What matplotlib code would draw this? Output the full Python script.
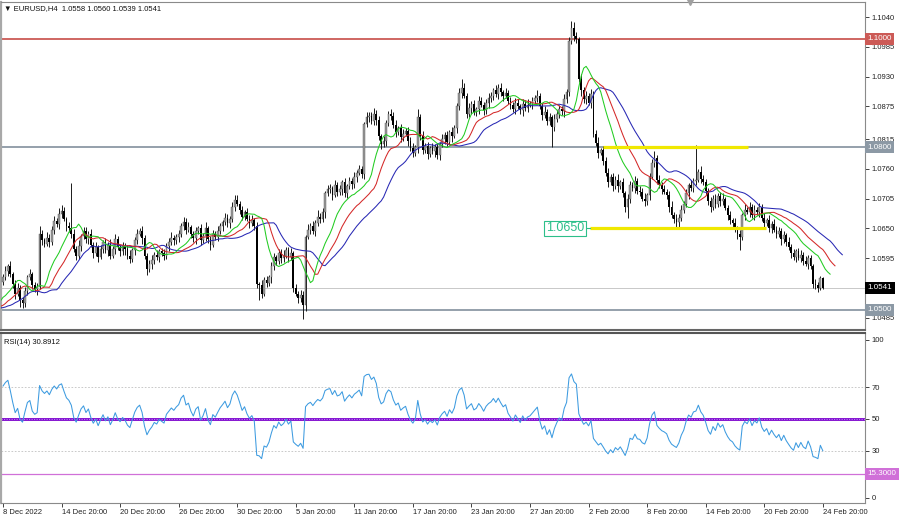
import numpy as np
import pandas as pd
import matplotlib as mpl
mpl.use('Agg')
import matplotlib.pyplot as plt
import matplotlib.transforms as mtransforms

plt.rcParams['font.family'] = ['Liberation Sans', 'DejaVu Sans']

# EURUSD H4 closes in pips above 1.0000, 8 Dec 2022 20:00 .. 24 Feb 2023 20:00
close_pips = [
    560, 572, 580, 566, 548, 530, 540, 518, 512, 535, 560, 566, 545, 538, 542,
    640, 628, 622, 633, 625, 648, 664, 658, 676, 682, 668, 655, 650, 640,
    612, 600, 618, 636, 645, 630, 640, 620, 605, 615, 598, 612,
    625, 610, 620, 600, 612, 630, 615, 608, 618, 612, 600, 594, 610,
    628, 640, 646, 632, 600, 575, 585, 592, 602, 598, 608, 604, 600,
    618, 625, 632, 628, 635, 640, 655, 662, 648, 652, 640, 632, 645, 650, 628, 636,
    650, 630, 620, 640, 635, 645, 655, 662, 670, 660, 668, 690, 702, 696,
    685, 672, 680, 668, 660, 665, 655, 548, 545, 530, 555, 550, 560,
    580, 598, 590, 605, 595, 600, 610, 598, 605, 540, 530, 522, 528, 508, 634,
    648, 655, 645, 660, 672, 668, 680, 715, 722, 725, 712, 730, 718, 722, 735, 715, 728, 738, 732,
    745, 752, 760, 750, 842, 855, 858, 848, 862, 850, 820, 805, 812, 845, 862, 858, 840,
    828, 835, 818, 825, 830, 812, 798, 790, 800, 855, 820, 795, 802, 788, 798, 792, 800, 785, 805,
    815, 822, 810, 828, 820, 835, 875, 900, 910, 895, 862, 872, 880, 865, 870, 885, 878, 868, 882, 890,
    895, 905, 898, 910, 902, 895, 900, 885, 878, 870, 882, 875, 868, 880, 872, 878, 880, 885, 890, 895,
    875, 860, 865, 848, 855, 838, 852, 862, 870, 866, 888, 902, 995, 1020, 1005, 1000, 925,
    905, 888, 895, 882, 898, 825, 808, 790, 795, 775, 752, 735, 745, 728, 740, 728, 735,
    715, 690, 705, 730, 725, 738, 720, 718, 705, 700, 712, 745, 770, 780, 740, 730, 722, 718, 712,
    690, 675, 668, 662, 670, 685, 695, 715, 730, 725, 738, 740, 755, 742, 735, 720, 700, 690, 705,
    695, 710, 700, 705, 688, 675, 665, 660, 648, 640, 635, 675, 685, 680, 690, 675, 685, 680, 690,
    670, 660, 665, 650, 658, 648, 640, 645, 630, 638, 625, 615, 605, 598, 608, 595, 602, 590, 585,
    595, 580, 548, 545, 540, 558, 541,
]

# upper / lower shadow lengths in pips
wick_up = [
    6, 8, 5, 10, 4, 7, 9, 5, 6, 8, 5, 9, 4, 6, 7, 12, 8, 5, 10, 6,
    7, 9, 5, 11, 6, 8, 4, 7, 5, 9, 6, 10, 4, 8, 7, 5, 9, 6, 11, 5,
    7, 4, 8, 6, 10, 5, 9, 6, 4, 8, 5, 7, 10, 4, 6, 9, 5, 8, 6, 4,
    7, 10, 5, 8, 4, 6, 9, 5, 7, 11, 6, 4, 8, 5, 9, 7, 10, 4, 6, 8,
    5, 9, 6, 12, 4, 7, 8, 5, 10, 6, 4, 8, 7, 5, 9, 6, 10, 5, 7, 4,
    8, 6, 9, 5, 7, 4, 10, 6, 8, 5, 9, 6, 4, 8, 7, 10, 5, 6, 9, 4,
    7, 5, 8, 6, 4, 10, 6, 9, 5, 12, 6, 8, 5, 9, 7, 4, 10, 6, 8, 5,
    9, 4, 7, 6, 10, 5, 8, 6, 4, 9, 7, 5, 10, 6, 8, 4, 9, 6, 5, 8,
    6, 10, 4, 7, 9, 5, 8, 6, 10, 4, 7, 6, 9, 5, 8, 4, 10, 6, 7, 5,
    9, 6, 8, 4, 10, 5, 7, 9, 6, 8, 5, 10, 6, 7, 4, 9, 8, 5, 6, 10,
    7, 5, 9, 6, 8, 4, 10, 6, 7, 5, 8, 6, 4, 9, 7, 10, 5, 8, 6, 9,
    4, 7, 10, 6, 8, 5, 9, 6, 7, 5, 10, 6, 8, 5, 9, 7, 4, 10, 6, 8,
    5, 9, 6, 7, 10, 4, 8, 6, 9, 5, 7, 6, 10, 4, 8, 5, 9, 7, 6, 8,
    5, 9, 6, 10, 4, 7, 8, 6, 5, 9, 6, 8, 4, 7, 10, 5, 9, 6, 8, 5,
    7, 4, 9, 6, 8, 5, 10, 6, 7, 4, 8, 6, 9, 5, 7, 10, 4, 6, 8, 5,
    9, 6, 7, 4, 10, 5, 8, 6, 9, 5, 7, 6, 8, 4, 9, 5, 10, 6, 7, 5,
    8, 4, 9, 6, 7, 5, 6, 8, 5, 9, 6, 7, 5, 8, 6, 4, 2,
]
wick_dn = [
    7, 5, 9, 6, 8, 10, 5, 12, 9, 6, 8, 5, 7, 6, 10, 4, 8, 6, 5, 9,
    6, 8, 5, 9, 7, 4, 10, 6, 8, 5, 9, 6, 10, 5, 7, 8, 4, 9, 6, 10,
    5, 8, 6, 10, 7, 4, 9, 5, 8, 6, 10, 6, 8, 5, 9, 7, 4, 10, 6, 8,
    5, 9, 7, 6, 10, 4, 8, 6, 9, 5, 8, 6, 10, 5, 7, 9, 4, 8, 6, 10,
    6, 8, 5, 9, 7, 10, 4, 6, 8, 5, 9, 5, 7, 10, 6, 8, 4, 9, 6, 7,
    5, 10, 6, 8, 7, 4, 9, 5, 8, 6, 10, 6, 8, 5, 9, 7, 4, 10, 6, 8,
    5, 9, 7, 6, 10, 4, 8, 6, 9, 5, 8, 6, 10, 5, 7, 9, 4, 8, 6, 10,
    6, 8, 5, 9, 7, 10, 4, 6, 8, 5, 9, 5, 7, 10, 6, 8, 4, 9, 6, 7,
    5, 10, 6, 8, 7, 4, 9, 5, 8, 6, 10, 6, 8, 5, 9, 7, 4, 10, 6, 8,
    5, 9, 7, 6, 10, 4, 8, 6, 9, 5, 8, 6, 10, 5, 7, 9, 4, 8, 6, 10,
    6, 8, 5, 9, 7, 10, 4, 6, 8, 5, 9, 5, 7, 10, 6, 8, 4, 9, 6, 7,
    5, 10, 6, 8, 7, 4, 9, 5, 8, 6, 10, 6, 8, 5, 9, 7, 4, 10, 6, 8,
    5, 9, 7, 6, 10, 4, 8, 6, 9, 5, 8, 6, 10, 5, 7, 9, 4, 8, 6, 10,
    6, 8, 5, 9, 7, 10, 4, 6, 8, 5, 9, 5, 7, 10, 6, 8, 4, 9, 6, 7,
    5, 10, 6, 8, 7, 4, 9, 5, 8, 6, 10, 6, 8, 5, 9, 7, 4, 10, 6, 8,
    5, 9, 7, 6, 10, 4, 8, 6, 9, 5, 8, 6, 10, 5, 7, 9, 4, 8, 6, 10,
    6, 8, 5, 9, 7, 10, 4, 6, 8, 5, 9, 5, 7, 6, 8, 4, 2,
]

# notable spikes (bar index -> pips)
high_marks = {15: 655, 24: 693, 28: 734, 95: 712, 151: 865, 170: 870, 188: 925,
              203: 915, 219: 905, 233: 1033, 234: 1030, 267: 792, 284: 804, 310: 697}
low_marks = {8: 503, 59: 565, 105: 518, 123: 483, 225: 800, 256: 670, 276: 650, 302: 610}

# closes before the visible window (only feed the indicators)
pre_pips = [520, 535, 548, 560, 552, 540, 525, 510, 498, 485, 470, 462, 475, 488, 480,
            492, 505, 498, 485, 492, 505, 515, 508, 520, 530, 522, 535, 548, 540, 552]

x_labels = ["8 Dec 2022", "14 Dec 20:00", "20 Dec 20:00", "26 Dec 20:00", "30 Dec 20:00",
            "5 Jan 20:00", "11 Jan 20:00", "17 Jan 20:00", "23 Jan 20:00", "27 Jan 20:00",
            "2 Feb 20:00", "8 Feb 20:00", "14 Feb 20:00", "20 Feb 20:00", "24 Feb 20:00"]
price_ticks = [1.1040, 1.0985, 1.0930, 1.0875, 1.0815, 1.0760, 1.0705, 1.0650, 1.0595, 1.0485]
rsi_ticks = [0, 30, 50, 70, 100]

# build OHLC
c = np.array(close_pips, dtype=float)
n = len(c)
o = np.r_[pre_pips[-1], c[:-1]]
h = np.maximum(o, c) + np.array(wick_up[:n])
l = np.minimum(o, c) - np.array(wick_dn[:n])
for k, v in high_marks.items():
    h[k] = max(h[k], v)
for k, v in low_marks.items():
    l[k] = min(l[k], v)
to_px = lambda p: 1 + np.asarray(p) / 10000.0
idx = np.arange(n)

# Alligator (SMMA of median price, shifted)
med = pd.Series(np.r_[pre_pips, (h + l) / 2])
x_all = np.arange(-len(pre_pips), n)
def smma(s, period):
    return s.ewm(alpha=1.0 / period, adjust=False).mean()
jaw, teeth, lips = smma(med, 13), smma(med, 8), smma(med, 5)

# RSI(14)
cl = pd.Series(np.r_[pre_pips, c])
d = cl.diff()
up = d.clip(lower=0).ewm(alpha=1 / 14, adjust=False).mean()
dn = (-d.clip(upper=0)).ewm(alpha=1 / 14, adjust=False).mean()
rsi = (100 - 100 / (1 + up / dn)).values[len(pre_pips):]

W, H = 900, 517
fig = plt.figure(figsize=(9, 5.17), dpi=100)
ax = fig.add_axes([1 / W, 1 - 330 / H, 864 / W, 328 / H])
ax2 = fig.add_axes([1 / W, 1 - 503 / H, 864 / W, 170 / H])

xmin, xmax = -0.82, 353.3
for a in (ax, ax2):
    a.set_xlim(xmin, xmax)
    a.yaxis.tick_right()
    a.tick_params(axis='y', direction='out', length=3, width=0.6, labelsize=5.5,
                  colors='#222222', pad=2)
    for s in a.spines.values():
        s.set_color('#8a8a8a')
        s.set_linewidth(0.8)
    a.spines['left'].set_linewidth(1.6)
    a.spines['left'].set_color('#a8a8a8')

ax.set_ylim(1.04628, 1.10677)
ax.spines['bottom'].set_color('#666666')
ax.spines['bottom'].set_linewidth(1.5)
ax2.spines['top'].set_color('#555555')
ax2.spines['top'].set_linewidth(1.5)

# horizontal levels
ax.axhline(1.1000, color='#cc5a56', lw=1.3, zorder=1)
ax.axhline(1.0800, color='#8c99a5', lw=1.3, zorder=1)
ax.axhline(1.0500, color='#8c99a5', lw=1.3, zorder=1)
ax.axhline(to_px(c[-1]), color='#c8c8c8', lw=0.7, zorder=1)

# candles
bull = c >= o
ax.vlines(idx, to_px(l), to_px(h), color='#1a1a1a', lw=0.7, zorder=2)
body_lo = np.minimum(o, c)
body_h = np.maximum(np.abs(c - o), 0.8)
ax.bar(idx[bull], body_h[bull] / 10000, bottom=to_px(body_lo[bull]), width=0.72,
       color='#9a9a9a', edgecolor='#555555', linewidth=0.3, zorder=3)
ax.bar(idx[~bull], body_h[~bull] / 10000, bottom=to_px(body_lo[~bull]), width=0.72,
       color='black', linewidth=0, zorder=3)

# alligator lines
ax.plot(x_all + 8, to_px(jaw), color='#2828b4', lw=0.75, zorder=4)
ax.plot(x_all + 5, to_px(teeth), color='#d42828', lw=0.75, zorder=4)
ax.plot(x_all + 3, to_px(lips), color='#22cc22', lw=0.75, zorder=4)

# yellow support / resistance
ax.plot([245.9, 305.3], [1.0800, 1.0800], color='#f0e800', lw=2.3, zorder=5,
        solid_capstyle='butt')
ax.plot([240.6, 312.7], [1.0650, 1.0650], color='#f0e800', lw=2.3, zorder=5,
        solid_capstyle='butt')
ax.plot([238.2, 240.6], [1.0650, 1.0650], color='#2cbf8a', lw=0.8, zorder=5)
ax.text(230.3, 1.0650, '1.0650', color='#2cbf8a', fontsize=9, ha='center', va='center',
        zorder=6, bbox=dict(boxstyle='square,pad=0.12', fc='white', ec='#2cbf8a', lw=0.8))

ax.set_yticks(price_ticks)
ax.set_yticklabels(['%.4f' % p for p in price_ticks])
ax.set_xticks([])


def axis_tag(a, y, text, color):
    tr = mtransforms.blended_transform_factory(a.transAxes, a.transData)
    a.text(1.003, y, text, transform=tr, ha='left', va='center', fontsize=5.8,
           color='white', clip_on=False, zorder=8,
           bbox=dict(boxstyle='square,pad=0.3', fc=color, ec='none'))


axis_tag(ax, 1.1000, '1.1000', '#cc5a56')
axis_tag(ax, 1.0800, '1.0800', '#8c99a5')
axis_tag(ax, to_px(c[-1]), '%.4f' % to_px(c[-1]), 'black')
axis_tag(ax, 1.0500, '1.0500', '#8c99a5')

# small shift marker at the top
ax.plot(281.6, 1.10677, marker='v', color='#a0a0a0', markersize=4, clip_on=False, zorder=6)

# RSI panel
ax2.set_ylim(-3.2, 104.4)
ax2.axhline(70, color='#c0c0c0', lw=0.6, ls=(0, (2, 2)))
ax2.axhline(30, color='#c0c0c0', lw=0.6, ls=(0, (2, 2)))
ax2.axhline(50, color='#7a00cc', lw=2.0)
ax2.axhline(50, color='#c890ff', lw=0.6, ls=(0, (1.5, 1.5)))
ax2.axhline(15.3, color='#d070d8', lw=0.9)
ax2.plot(idx, rsi, color='#3d9be0', lw=0.75)
ax2.set_yticks(rsi_ticks)
ax2.set_yticklabels([str(t) for t in rsi_ticks])
axis_tag(ax2, 15.3, '15.3000', '#d070d8')

ax2.set_xticks(np.arange(0, 24 * len(x_labels), 24))
ax2.set_xticklabels(x_labels)
ax2.tick_params(axis='x', direction='out', length=3, width=0.6, labelsize=5.5,
                colors='#222222', pad=1)
for t in ax2.get_xticklabels():
    t.set_ha('left')

# header texts
fig.text(4 / W, 1 - 9 / H, '\u25bc EURUSD,H4  1.0558 1.0560 1.0539 1.0541', fontsize=5.5,
         color='#111111', va='center', ha='left')
fig.text(4 / W, 1 - 343 / H, 'RSI(14) 30.8912', fontsize=5.5, color='#111111',
         va='center', ha='left')

fig.savefig('out.png', dpi=100)
